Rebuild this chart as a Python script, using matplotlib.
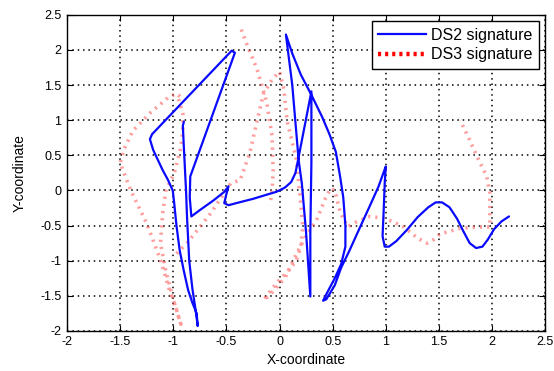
import matplotlib
matplotlib.use("Agg")
import matplotlib.pyplot as plt
from matplotlib.lines import Line2D
import numpy as np

# DS2 signature (blue, solid)
ds2_x = [-0.90, -0.91, -0.90, -0.89, -0.88, -0.87, -0.85, -0.82, -0.79, -0.77,
         -0.78, -0.82, -0.86, -0.90, -0.94, -0.97, -0.99, -1.005, -1.05, -1.10, -1.15, -1.19, -1.22, -1.20,
         -0.45, -0.42,
         -0.84, -0.845, -0.83,
         -0.75, -0.62, -0.52, -0.48, -0.50, -0.52, -0.48, -0.38, -0.25, -0.12, -0.03, 0.05, 0.11, 0.15, 0.17,
         0.30, 0.30, 0.29, 0.29, 0.25, 0.21, 0.18, 0.12, 0.06,
         0.12, 0.20, 0.30, 0.40, 0.47, 0.53, 0.57, 0.60, 0.62, 0.62, 0.58, 0.52, 0.45, 0.41,
         0.44, 0.52, 0.58, 0.66, 0.75, 0.85, 0.93, 0.99, 1.00,
         0.99, 0.98, 0.97, 0.99, 1.03, 1.10, 1.20, 1.30, 1.40, 1.47, 1.53, 1.60, 1.67, 1.73, 1.79, 1.85,
         1.91, 1.96, 2.02, 2.09, 2.16]
ds2_y = [0.98, 0.92, 0.60, 0.30, 0.00, -0.40, -1.00, -1.40, -1.70, -1.93,
         -1.75, -1.60, -1.42, -1.15, -0.85, -0.50, -0.20, 0.00, 0.15, 0.29, 0.45, 0.58, 0.73, 0.80,
         1.99, 1.96,
         0.20, -0.10, -0.37,
         -0.28, -0.14, -0.02, 0.06, -0.05, -0.18, -0.21, -0.17, -0.12, -0.06, -0.02, 0.04, 0.12, 0.25, 0.40,
         1.41, 0.40, -0.60, -1.51, -0.60, 0.10, 0.43, 1.50, 2.22,
         1.95, 1.65, 1.36, 1.05, 0.80, 0.55, 0.20, -0.10, -0.50, -0.80, -1.05, -1.25, -1.45, -1.57,
         -1.55, -1.35, -1.10, -0.85, -0.55, -0.22, 0.05, 0.30, 0.34,
         0.10, -0.30, -0.65, -0.80, -0.80, -0.72, -0.56, -0.38, -0.24, -0.17, -0.17, -0.24, -0.40, -0.58, -0.75, -0.82,
         -0.80, -0.70, -0.55, -0.44, -0.37]

# DS3 signature (red, dotted); NaN marks a pen-up
nan = np.nan
ds3_x = [-0.95, -0.91, -0.91, -0.93, -0.99, -1.07, -1.10, -1.12, -1.07, -1.00, -0.93,
         -0.98, -1.04, -1.12, -1.25, -1.40, -1.50, -1.46, -1.38, -1.22, -1.05, -0.97, -0.93,
         nan,
         -0.97, -0.87, -0.65, -0.46, -0.37, -0.28, -0.21, -0.15, -0.07, 0.00,
         0.04, 0.07, 0.16, 0.19, 0.22, 0.20, 0.16, 0.08, 0.00, -0.08, -0.15,
         -0.10, 0.05, 0.16, 0.26, 0.35, 0.43, 0.48, 0.52, 0.57, 0.64, 0.72, 0.85, 1.00, 1.17, 1.30, 1.39,
         1.45, 1.51, 1.70, 1.85, 1.98, 1.98, 1.95, 1.86, 1.78, 1.70,
         nan,
         -0.36, -0.30, -0.21, -0.12, -0.07, -0.06, -0.07, -0.09]
ds3_y = [1.30, 1.10, 0.85, 0.60, 0.25, 0.00, -0.33, -0.75, -1.15, -1.55, -1.90,
         -1.65, -1.40, -0.99, -0.47, 0.00, 0.39, 0.60, 0.85, 1.10, 1.32, 1.38, 1.33,
         nan,
         -0.90, -0.75, -0.33, 0.10, 0.15, 0.53, 1.00, 1.38, 1.58, 1.69,
         1.45, 1.00, 0.43, -0.04, -0.52, -0.80, -0.99, -1.15, -1.27, -1.42, -1.56,
         -1.50, -1.25, -0.90, -0.62, -0.42, -0.12, 0.03, 0.00, -0.30, -0.52, -0.45, -0.37, -0.40, -0.52, -0.68, -0.75,
         -0.70, -0.62, -0.54, -0.52, -0.52, -0.04, 0.20, 0.48, 0.75, 1.00,
         nan,
         2.29, 2.05, 1.72, 1.25, 0.77, 0.29, 0.00, -0.21]

x_ticks = [-2, -1.5, -1, -0.5, 0, 0.5, 1, 1.5, 2, 2.5]
y_ticks = [-2, -1.5, -1, -0.5, 0, 0.5, 1, 1.5, 2, 2.5]
x_tick_labels = ["-2", "-1.5", "-1", "-0.5", "0", "0.5", "1", "1.5", "2", "2.5"]
y_tick_labels = ["-2", "-1.5", "-1", "-0.5", "0", "0.5", "1", "1.5", "2", "2.5"]

plt.rcParams['font.family'] = ['Liberation Sans', 'DejaVu Sans']

fig = plt.figure(figsize=(5.54, 3.71), dpi=100)
ax = fig.add_axes([0.121, 0.108, 0.863, 0.852])

blue = '#0a0aff'
red_line = (1.0, 0.3, 0.3)
ax.plot(ds2_x, ds2_y, color=blue, lw=1.6, solid_joinstyle='round',
        solid_capstyle='round', zorder=3)
ax.plot(ds3_x, ds3_y, color=red_line, alpha=0.55, lw=2.6,
        linestyle=(0, (0.6, 1.4)), zorder=2)

ax.set_xlim(-2, 2.5)
ax.set_ylim(-2, 2.5)
ax.set_xticks(x_ticks)
ax.set_xticklabels(x_tick_labels)
ax.set_yticks(y_ticks)
ax.set_yticklabels(y_tick_labels)
ax.grid(True, color='black', linestyle=(0, (1, 2.5)), linewidth=1.1)
ax.tick_params(direction='in', top=True, right=True, length=4, labelsize=9,
               colors='black', pad=4)
for s in ax.spines.values():
    s.set_linewidth(1.0)
    s.set_color('black')

ax.set_xlabel('X-coordinate', fontsize=10, labelpad=3)
ax.set_ylabel('Y-coordinate', fontsize=10, labelpad=10)

handles = [Line2D([], [], color=blue, lw=1.6),
           Line2D([], [], color='red', lw=3.2, linestyle=(0, (0.7, 0.9)))]
leg = ax.legend(handles, ['DS2 signature', 'DS3 signature'], loc='upper right',
                fontsize=11.5, frameon=True, fancybox=False,
                borderaxespad=0.4, handlelength=3.0, borderpad=0.4,
                labelspacing=0.3, handletextpad=0.3)
leg.get_frame().set_edgecolor('black')
leg.get_frame().set_linewidth(1.0)
leg.get_frame().set_alpha(1.0)

fig.savefig('out.png', dpi=100)
